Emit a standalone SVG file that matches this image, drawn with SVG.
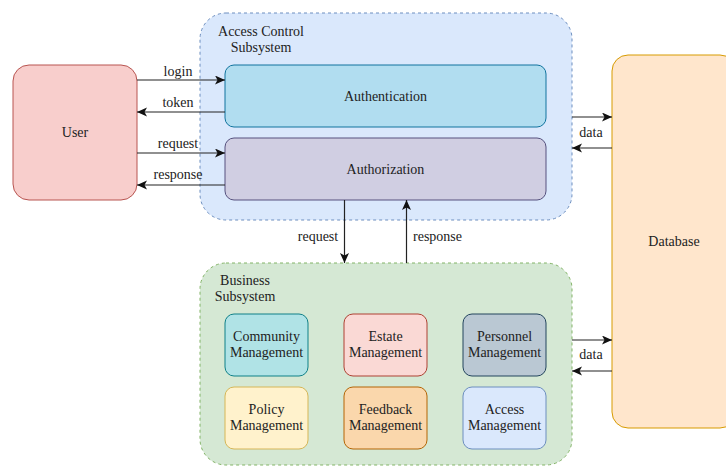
<svg xmlns="http://www.w3.org/2000/svg" width="726" height="467" viewBox="0 0 726 467" font-family="'Liberation Serif', 'Times New Roman', serif" font-size="14">
<defs>
<marker id="arr" markerUnits="userSpaceOnUse" markerWidth="12" markerHeight="10" refX="10" refY="4.5" orient="auto">
<path d="M0,0 L10,4.5 L0,9 L2.5,4.5 Z" fill="#111"/>
</marker>
<style>
text{font-family:'Liberation Serif','Times New Roman',serif;font-size:14px;fill:#222;}
.c{text-anchor:middle;}
.e{stroke:#222;stroke-width:1.2;fill:none;marker-end:url(#arr);}
</style>
</defs>
<rect width="726" height="467" fill="#fff"/>
<g id="access-control">
<rect x="200" y="13" width="372" height="207" rx="26" fill="#dae8fc" stroke="#6c8ebf" stroke-dasharray="3 3"/>
<text class="c" x="261" y="36">Access Control</text>
<text class="c" x="261" y="52">Subsystem</text>
</g>
<g id="business">
<rect x="200" y="263" width="372" height="202" rx="26" fill="#d5e8d4" stroke="#82b366" stroke-dasharray="3 3"/>
<text class="c" x="245" y="285">Business</text>
<text class="c" x="245" y="301">Subsystem</text>
</g>
<g id="user">
<rect x="13" y="65" width="124" height="135" rx="16" fill="#f8cecc" stroke="#b85450"/>
<text class="c" x="75" y="137">User</text>
</g>
<g id="authentication">
<rect x="225" y="65" width="321" height="62" rx="9" fill="#b1ddf0" stroke="#10739e"/>
<text class="c" x="385.5" y="101">Authentication</text>
</g>
<g id="authorization">
<rect x="225" y="138" width="321" height="62" rx="9" fill="#d0cee2" stroke="#56517e"/>
<text class="c" x="385.5" y="174">Authorization</text>
</g>
<g id="database">
<rect x="612" y="55" width="124" height="373" rx="16" fill="#ffe6cc" stroke="#d79b00"/>
<text class="c" x="674" y="246">Database</text>
</g>
<g id="community">
<rect x="225" y="314" width="83" height="62" rx="9" fill="#b0e3e6" stroke="#0e8088"/>
<text class="c" x="266.5" y="341">Community</text>
<text class="c" x="266.5" y="357">Management</text>
</g>
<g id="estate">
<rect x="344" y="314" width="83" height="62" rx="9" fill="#fad9d5" stroke="#ae4132"/>
<text class="c" x="385.5" y="341">Estate</text>
<text class="c" x="385.5" y="357">Management</text>
</g>
<g id="personnel">
<rect x="463" y="314" width="83" height="62" rx="9" fill="#bac8d3" stroke="#23445d"/>
<text class="c" x="504.5" y="341">Personnel</text>
<text class="c" x="504.5" y="357">Management</text>
</g>
<g id="policy">
<rect x="225" y="387" width="83" height="62" rx="9" fill="#fff2cc" stroke="#d6b656"/>
<text class="c" x="266.5" y="414">Policy</text>
<text class="c" x="266.5" y="430">Management</text>
</g>
<g id="feedback">
<rect x="344" y="387" width="83" height="62" rx="9" fill="#fad7ac" stroke="#b46504"/>
<text class="c" x="385.5" y="414">Feedback</text>
<text class="c" x="385.5" y="430">Management</text>
</g>
<g id="access-management">
<rect x="463" y="387" width="83" height="62" rx="9" fill="#dae8fc" stroke="#6c8ebf"/>
<text class="c" x="504.5" y="414">Access</text>
<text class="c" x="504.5" y="430">Management</text>
</g>
<g id="connectors">
<line class="e" x1="137" y1="80" x2="225" y2="80"/>
<line class="e" x1="225" y1="112" x2="137" y2="112"/>
<line class="e" x1="137" y1="153" x2="225" y2="153"/>
<line class="e" x1="225" y1="185" x2="137" y2="185"/>
<line class="e" x1="572" y1="117" x2="612" y2="117"/>
<line class="e" x1="612" y1="148" x2="572" y2="148"/>
<line class="e" x1="572" y1="340" x2="612" y2="340"/>
<line class="e" x1="612" y1="371" x2="572" y2="371"/>
<line class="e" x1="344.5" y1="200" x2="344.5" y2="263"/>
<line class="e" x1="406.5" y1="263" x2="406.5" y2="200"/>
<text class="c" x="178" y="76">login</text>
<text class="c" x="178" y="107">token</text>
<text class="c" x="178" y="148">request</text>
<text class="c" x="178" y="179">response</text>
<text class="c" x="591" y="137">data</text>
<text class="c" x="591" y="359">data</text>
<text class="c" x="318" y="241">request</text>
<text class="c" x="437.5" y="241">response</text>
</g>
</svg>
